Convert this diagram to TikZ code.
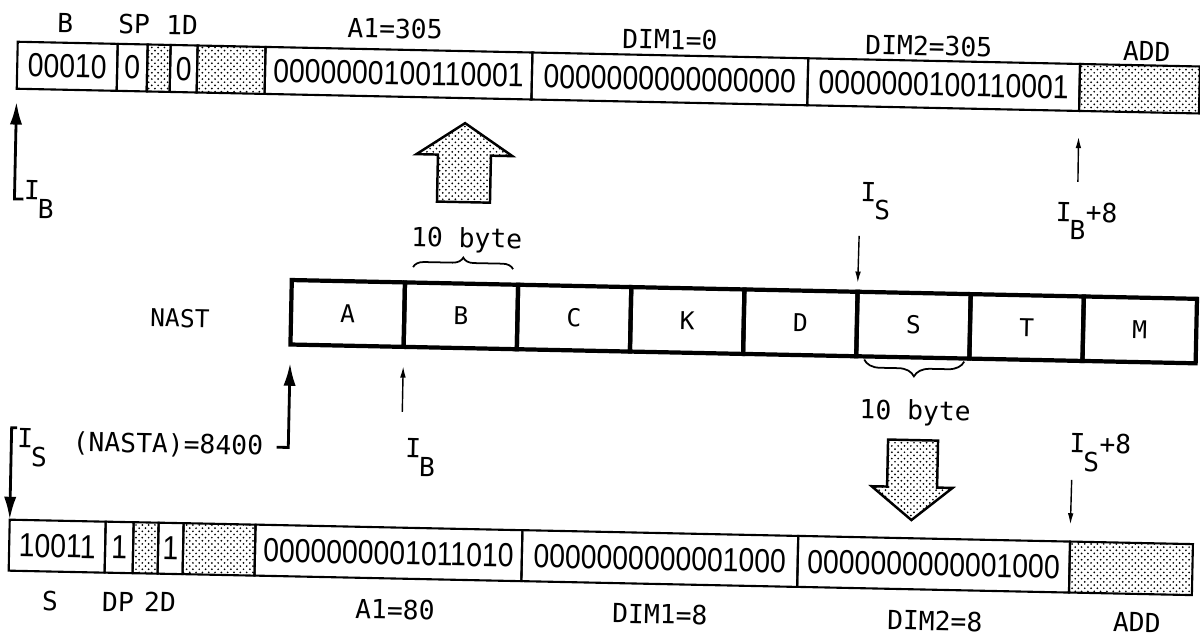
\documentclass[tikz,border=0pt]{standalone}
\usepackage{fontspec}
\usetikzlibrary{patterns,arrows.meta,decorations.pathreplacing}
\pgfdeclarepatternformonly{scandots}{\pgfqpoint{-1pt}{-1pt}}{\pgfqpoint{4pt}{4pt}}{\pgfqpoint{3.6pt}{3.6pt}}{%
  \pgfpathcircle{\pgfqpoint{0pt}{0pt}}{0.55pt}%
  \pgfpathcircle{\pgfqpoint{1.8pt}{1.8pt}}{0.55pt}%
  \pgfusepath{fill}}
\newfontfamily\cellfamily[FakeStretch=0.85]{Liberation Sans}
\newfontfamily\lblfamily{DejaVu Sans Mono}
\newcommand\cellfnt{\cellfamily\fontsize{19pt}{19pt}\selectfont}
\newcommand\lblfnt{\lblfamily\fontsize{15pt}{15pt}\selectfont}
\newcommand\nastfnt{\lblfamily\fontsize{14pt}{14pt}\selectfont}
\newcommand\Sub[1]{\kern-1pt\raisebox{-0.7em}{#1}}
\tikzset{
 cell/.style={draw, line width=1.2pt, inner sep=0pt, outer sep=0pt, anchor=north west, font=\cellfnt, transform shape},
 cellT/.style={cell, minimum height=0.94cm},
 cellB/.style={cell, minimum height=1.02cm},
 dotfill/.style={pattern=scandots},
 nastcell/.style={draw, line width=2.4pt, inner sep=0pt, outer sep=0pt, anchor=north west, minimum width=2.265cm, minimum height=1.29cm, font=\nastfnt, transform shape},
 lbl/.style={font=\lblfnt, inner sep=0pt, transform shape},
 thinarr/.style={line width=0.8pt, -{Latex[length=6.5pt,width=3.2pt]}},
 thickarr/.style={line width=1.6pt, -{Latex[length=13pt,width=7pt]}},
 bigarrow/.style={draw, line width=1.4pt, pattern=scandots},
 bracestyle/.style={decorate, line width=1pt},
}
\begin{document}
\begin{tikzpicture}[x=0.02cm, y=-0.02cm]
\useasboundingbox (0,0) rectangle (1200,642);
\begin{scope}[rotate around={-1.2:(600,321)}]
% ---------- top record ----------
\node[cellT, minimum width=2.0cm] (cT1) at (12,54) {00010};
\node[cellT, minimum width=0.6cm] (cT2) at (cT1.north east) {0};
\node[cellT, dotfill, minimum width=0.46cm] (cT3) at (cT2.north east) {};
\node[cellT, minimum width=0.54cm] (cT4) at (cT3.north east) {0};
\node[cellT, dotfill, minimum width=1.36cm] (cT5) at (cT4.north east) {};
\node[cellT, minimum width=5.34cm] (cT6) at (cT5.north east) {0000000100110001};
\node[cellT, minimum width=5.52cm] (cT7) at (cT6.north east) {0000000000000000};
\node[cellT, minimum width=5.44cm] (cT8) at (cT7.north east) {0000000100110001};
\node[cellT, dotfill, minimum width=2.4cm] (cT9) at (cT8.north east) {};
\node[lbl] (lB) at (59,34) {B};
\node[lbl] (lSP) at (128,34) {SP};
\node[lbl] (l1D) at (176,34) {1D};
\node[lbl] (lA1) at (389,33) {A1=305};
\node[lbl] (lD1) at (664,38) {DIM1=0};
\node[lbl] (lD2) at (923,39) {DIM2=305};
\node[lbl] (lADD) at (1141,40) {ADD};
% big up arrow
\draw[bigarrow] (461,126) -- (509,158) -- (487.5,158) -- (487.5,205) -- (434.5,205) -- (434.5,158) -- (413,158) -- cycle;
% I_B top left
\node[lbl, anchor=base west] (ibT) at (21,211.6) {I\Sub{B}};
\draw[thickarr, shorten >=7.4pt] (ibT.west) -| (cT1.south west);
% I_B+8
\node[lbl, anchor=base west] (ib8) at (1053,211.6) {I\Sub{B}+8};
\coordinate (ib8a) at (1075,172);
\draw[thinarr, shorten >=14.7pt] (ib8a) -- (cT9.south west);
% ---------- NAST ----------
\node[lbl, font=\nastfnt] (nast) at (180,327) {NAST};
\node[nastcell] (nA) at (291,286.5) {A};
\node[nastcell] (nB) at (nA.north east) {B};
\node[nastcell] (nC) at (nB.north east) {C};
\node[nastcell] (nK) at (nC.north east) {K};
\node[nastcell] (nD) at (nK.north east) {D};
\node[nastcell] (nS) at (nD.north east) {S};
\node[nastcell] (nT) at (nS.north east) {T};
\node[nastcell] (nM) at (nT.north east) {M};
% upper 10 byte
\node[lbl] (tb1) at (465,243) {10 byte};
\draw[bracestyle, decoration={brace, amplitude=6pt}] (412,271) -- (512,271);
% I_S top
\node[lbl, anchor=base west] (isT) at (857.5,195.6) {I\Sub{S}};
\draw[thinarr, shorten <=9pt, shorten >=5pt] (isT.south west) -- (nS.north west);
% lower 10 byte
\draw[bracestyle, decoration={brace, amplitude=9pt}] (965,354) -- (865,354);
\node[lbl] (tb2) at (917,406) {10 byte};
% big down arrow
\draw[bigarrow] (890.5,433.5) -- (940.5,433.5) -- (940.5,480.5) -- (956,480.5) -- (915.5,513.5) -- (875,480.5) -- (890.5,480.5) -- cycle;
% I_B lower
\node[lbl, anchor=base west] (ibB) at (407.7,461.6) {I\Sub{B}};
\coordinate (ibBa) at (404.25,416);
\draw[thinarr, shorten >=11pt] (ibBa) -- (nB.south west);
% NASTA
\node[lbl] (nasta) at (170.6,454) {(NASTA)=8400};
\draw[thickarr, shorten <=7.5pt, shorten >=10.5pt] (nasta.east) -| (nA.south west);
\node[lbl, anchor=base west] (isL) at (19.5,459.6) {I\Sub{S}};
% ---------- bottom record ----------
\node[cellB, minimum width=1.92cm] (cB1) at (14,532) {10011};
\node[cellB, minimum width=0.56cm] (cB2) at (cB1.north east) {1};
\node[cellB, dotfill, minimum width=0.5cm] (cB3) at (cB2.north east) {};
\node[cellB, minimum width=0.5cm] (cB4) at (cB3.north east) {1};
\node[cellB, dotfill, minimum width=1.44cm] (cB5) at (cB4.north east) {};
\node[cellB, minimum width=5.34cm] (cB6) at (cB5.north east) {0000000001011010};
\node[cellB, minimum width=5.52cm] (cB7) at (cB6.north east) {0000000000001000};
\node[cellB, minimum width=5.44cm] (cB8) at (cB7.north east) {0000000000001000};
\node[cellB, dotfill, minimum width=2.46cm] (cB9) at (cB8.north east) {};
\draw[thickarr] (isL.north west) -| (cB1.north west);
% I_S+8
\node[lbl, anchor=base west] (is8) at (1071.6,442.6) {I\Sub{S}+8};
\coordinate (is8a) at (1075,470);
\draw[thinarr, shorten >=9.6pt] (is8a) -- (cB9.north west);
% bottom labels
\node[lbl] (bS) at (56,613) {S};
\node[lbl] (bDP) at (124,612) {DP};
\node[lbl] (b2D) at (166,611) {2D};
\node[lbl] (bA1) at (401,614) {A1=80};
\node[lbl] (bD1) at (666,613) {DIM1=8};
\node[lbl] (bD2) at (941,614) {DIM2=8};
\node[lbl] (bADD) at (1143,611) {ADD};
\end{scope}
\end{tikzpicture}
\end{document}
